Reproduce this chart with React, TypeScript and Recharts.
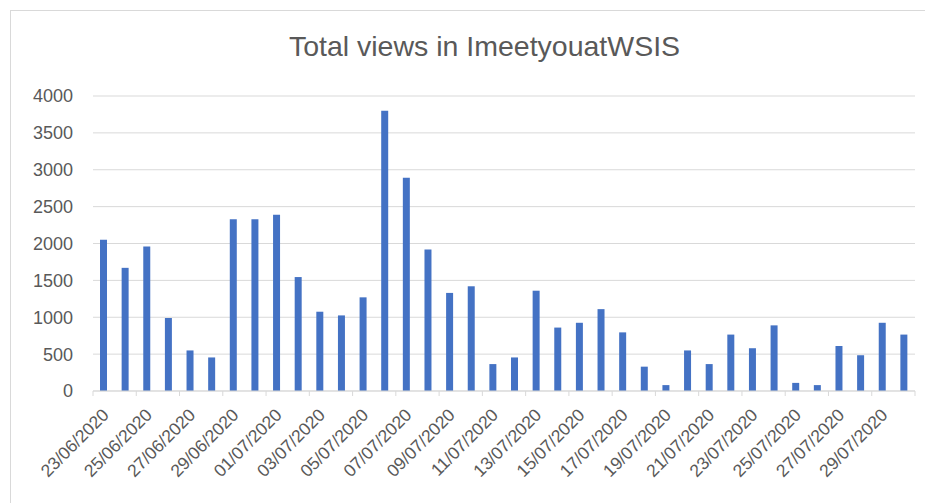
import React from "react";
import { BarChart, Bar, XAxis, YAxis, CartesianGrid } from "recharts";

const dates: string[] = [
  "23/06/2020", "24/06/2020", "25/06/2020", "26/06/2020", "27/06/2020", "28/06/2020",
  "29/06/2020", "30/06/2020", "01/07/2020", "02/07/2020", "03/07/2020", "04/07/2020",
  "05/07/2020", "06/07/2020", "07/07/2020", "08/07/2020", "09/07/2020", "10/07/2020",
  "11/07/2020", "12/07/2020", "13/07/2020", "14/07/2020", "15/07/2020", "16/07/2020",
  "17/07/2020", "18/07/2020", "19/07/2020", "20/07/2020", "21/07/2020", "22/07/2020",
  "23/07/2020", "24/07/2020", "25/07/2020", "26/07/2020", "27/07/2020", "28/07/2020",
  "29/07/2020", "30/07/2020",
];

const views: number[] = [
  2050, 1670, 1960, 990, 550, 455,
  2330, 2330, 2390, 1545, 1075, 1025,
  1270, 3800, 2890, 1920, 1330, 1420,
  365, 455, 1360, 860, 925, 1110,
  795, 330, 80, 550, 365, 765,
  580, 890, 110, 80, 610, 485,
  925, 765,
];

const yTicks: number[] = [0, 500, 1000, 1500, 2000, 2500, 3000, 3500, 4000];

const data = dates.map((d, i) => ({ date: d, views: views[i] }));

const TEXT = "#595959";
const GRID = "#d9d9d9";
const FONT = "'Liberation Sans', Arial, sans-serif";

const STEP = (907 - 85) / dates.length;

const XTick = (props: any) => {
  const { x, y, payload, index } = props;
  const idx = payload && typeof payload.index === "number" ? payload.index : index;
  const tx = x + 6;
  const ty = y + 17;
  return (
    <g>
      <line x1={x - STEP / 2} y1={y - 8} x2={x - STEP / 2} y2={y - 3} stroke={GRID} strokeWidth={1} />
      {idx === 36 ? (
        <line x1={x + STEP * 1.5} y1={y - 8} x2={x + STEP * 1.5} y2={y - 3} stroke={GRID} strokeWidth={1} />
      ) : null}
      <text
        x={tx}
        y={ty}
        transform={`rotate(-45, ${tx}, ${ty})`}
        textAnchor="end"
        fill={TEXT}
        fontSize={17.5}
        fontFamily={FONT}
      >
        {payload.value}
      </text>
    </g>
  );
};

export default function App() {
  return (
    <div style={{ position: "relative", width: 925, height: 495, overflow: "hidden", background: "#fff" }}>
      <div
        style={{
          position: "absolute",
          left: 2,
          top: 2,
          width: 940,
          height: 520,
          border: `1px solid ${GRID}`,
          boxSizing: "border-box",
        }}
      />
      <div
        style={{
          position: "absolute",
          left: 0,
          width: 925,
          top: 21,
          textAlign: "center",
          paddingLeft: 28,
          boxSizing: "border-box",
          fontFamily: FONT,
          fontSize: 28.5,
          color: TEXT,
          lineHeight: "34px",
        }}
      >
        Total views in ImeetyouatWSIS
      </div>
      <div style={{ position: "absolute", left: 0, top: 0 }}>
        <BarChart
          width={925}
          height={495}
          data={data}
          margin={{ top: 88, right: 18, bottom: 0, left: 0 }}
          barCategoryGap={0}
        >
          <CartesianGrid vertical={false} stroke={GRID} strokeWidth={1} />
          <XAxis
            dataKey="date"
            interval={1}
            height={112}
            tickLine={false}
            axisLine={{ stroke: GRID, strokeWidth: 1 }}
            tick={<XTick />}
          />
          <YAxis
            width={85}
            domain={[0, 4000]}
            ticks={yTicks}
            tickLine={false}
            axisLine={false}
            tickSize={0}
            tickMargin={20}
            tick={{ fill: TEXT, fontSize: 18, fontFamily: FONT }}
          />
          <Bar dataKey="views" fill="#4472C4" barSize={7} isAnimationActive={false} />
        </BarChart>
      </div>
    </div>
  );
}
